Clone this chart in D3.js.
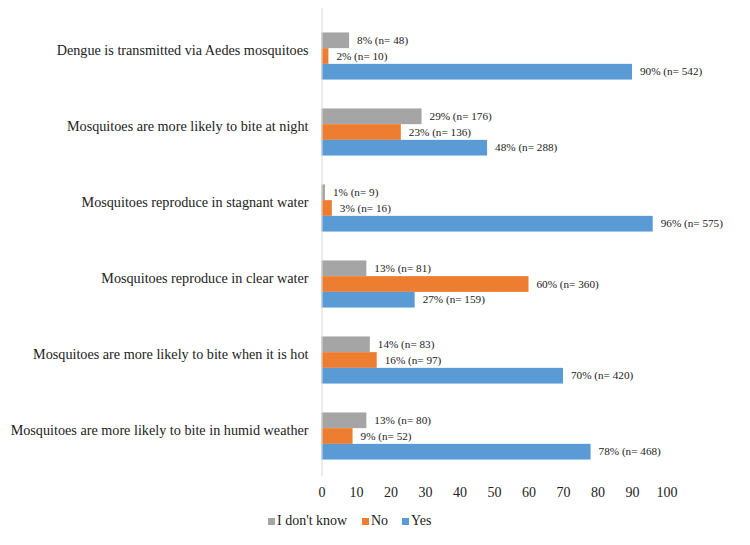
<!DOCTYPE html>
<html>
<head>
<meta charset="utf-8">
<script src="https://cdn.jsdelivr.net/npm/d3@7"></script>
</head>
<body style="margin:0;background:#fff">
<svg id="chart"></svg>
<script>
// Câu hỏi (từ trên xuống)
const categories = [
    "Dengue is transmitted via Aedes mosquitoes",
    "Mosquitoes are more likely to bite at night",
    "Mosquitoes reproduce in stagnant water",
    "Mosquitoes reproduce in clear water",
    "Mosquitoes are more likely to bite when it is hot",
    "Mosquitoes are more likely to bite in humid weather"
];
const seriesNames = ["I don't know", "No", "Yes"];
const dontKnowPct = [8, 29, 1, 13, 14, 13];
const dontKnowN = [48, 176, 9, 81, 83, 80];
const noPct = [2, 23, 3, 60, 16, 9];
const noN = [10, 136, 16, 360, 97, 52];
const yesPct = [90, 48, 96, 27, 70, 78];
const yesN = [542, 288, 575, 159, 420, 468];
const xTicks = [0, 10, 20, 30, 40, 50, 60, 70, 80, 90, 100];

const colors = { "I don't know": "#A5A5A5", "No": "#ED7D31", "Yes": "#5B9BD5" };
const FONT = "Liberation Serif";

const pctBySeries = [dontKnowPct, noPct, yesPct];
const nBySeries = [dontKnowN, noN, yesN];

const rows = [];
categories.forEach((c, i) => {
    seriesNames.forEach((s, j) => {
        rows.push({ category: c, series: s, pct: pctBySeries[j][i], n: nBySeries[j][i] });
    });
});

const W = 750, H = 545;
const svg = d3.select("#chart")
    .attr("width", W).attr("height", H)
    .attr("font-family", FONT);

const x = d3.scaleLinear().domain([0, 100]).range([321.5, 666.5]);
const y = d3.scaleBand().domain(categories).range([18, 474]).paddingInner(0.38).paddingOuter(0.19);
const ySub = d3.scaleBand().domain(seriesNames).range([0, y.bandwidth()]);

// Thanh
svg.append("g").selectAll("rect")
    .data(rows)
    .enter().append("rect")
    .attr("x", x(0))
    .attr("y", d => y(d.category) + ySub(d.series))
    .attr("width", d => x(d.pct) - x(0))
    .attr("height", ySub.bandwidth())
    .attr("fill", d => colors[d.series]);

// Nhãn giá trị
svg.append("g").selectAll("text")
    .data(rows)
    .enter().append("text")
    .attr("x", d => x(d.pct) + 8)
    .attr("y", d => y(d.category) + ySub(d.series) + ySub.bandwidth() / 2 + 1)
    .attr("dominant-baseline", "middle")
    .attr("font-family", FONT)
    .attr("font-size", 11.2)
    .attr("fill", "#222")
    .text(d => `${d.pct}% (n= ${d.n})`);

// Trục Y (nhãn câu hỏi)
const yAxis = svg.append("g")
    .attr("transform", `translate(${x(0)},0)`)
    .call(d3.axisLeft(y).tickSize(0).tickPadding(13))
    .attr("font-family", FONT)
    .attr("font-size", 14.2);
yAxis.select(".domain").attr("stroke", "#d9d9d9").attr("d", "M0.5,8V476");
yAxis.selectAll("text")
    .attr("dy", "-0.05em")
    .attr("fill", "#222");

// Trục X
const xAxis = svg.append("g")
    .attr("transform", "translate(0,480)")
    .call(d3.axisBottom(x).tickValues(xTicks).tickSize(0).tickPadding(7))
    .attr("font-family", FONT)
    .attr("font-size", 14);
xAxis.select(".domain").remove();
xAxis.selectAll("text").attr("fill", "#222");

// Chú thích
const legendX = [268, 362, 402];
const legend = svg.append("g").selectAll("g")
    .data(seriesNames)
    .enter().append("g")
    .attr("transform", (d, i) => `translate(${legendX[i]},522)`);
legend.append("rect")
    .attr("x", 0).attr("y", -4)
    .attr("width", 7).attr("height", 7)
    .attr("fill", d => colors[d]);
legend.append("text")
    .attr("x", 9)
    .attr("y", 0)
    .attr("dominant-baseline", "middle")
    .attr("font-family", FONT)
    .attr("font-size", 14)
    .attr("fill", "#222")
    .text(d => d);
</script>
</body>
</html>
